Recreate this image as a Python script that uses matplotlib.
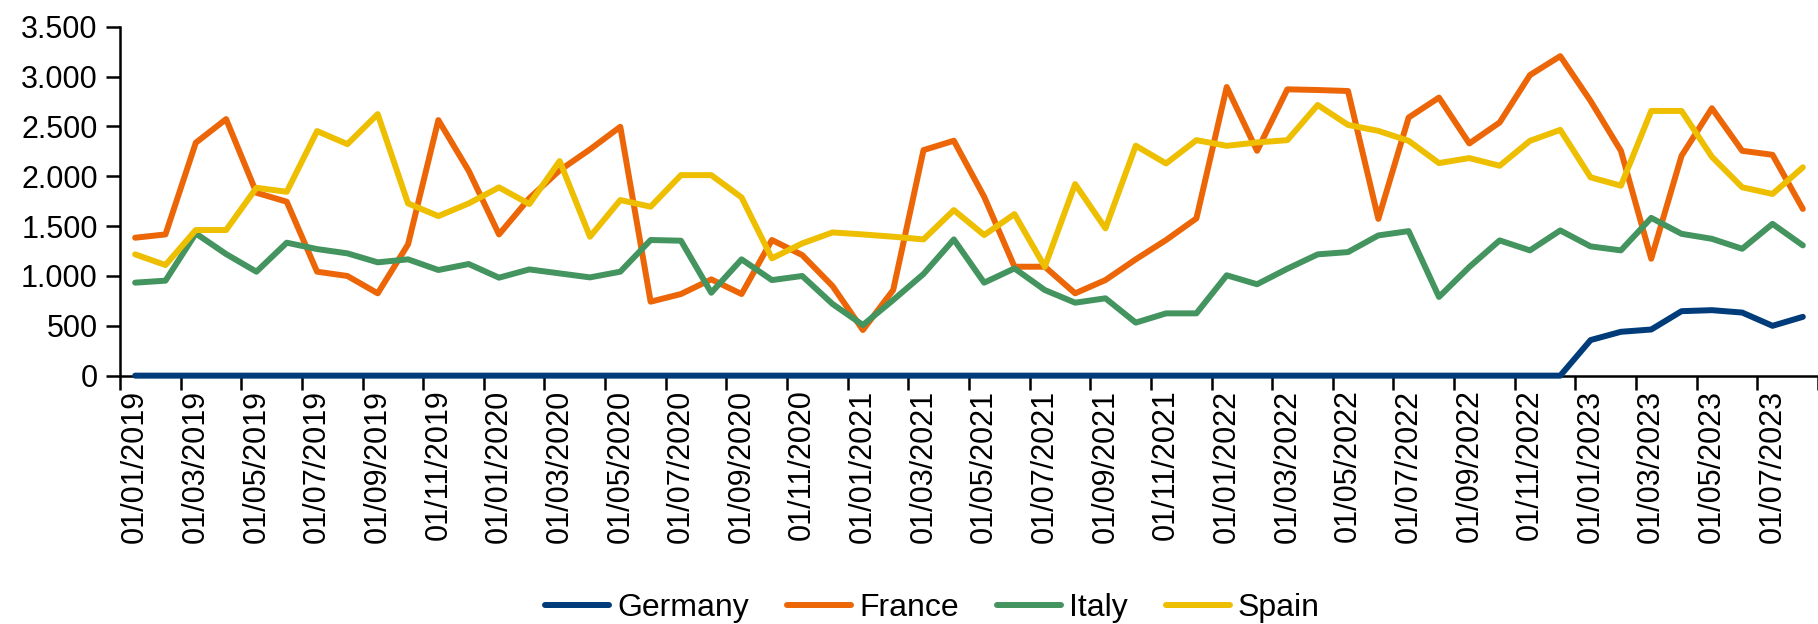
import matplotlib
matplotlib.use("Agg")
import matplotlib.pyplot as plt
import pandas as pd
import numpy as np
from matplotlib.ticker import FuncFormatter

plt.rcParams['font.family'] = ['Liberation Sans', 'DejaVu Sans']

dates = pd.date_range('2019-01-01', periods=56, freq='MS').strftime('%d/%m/%Y').tolist()

germany = [0, 0, 0, 0, 0, 0, 0, 0, 0, 0, 0, 0, 0, 0, 0, 0, 0, 0, 0, 0, 0, 0, 0, 0,
           0, 0, 0, 0, 0, 0, 0, 0, 0, 0, 0, 0, 0, 0, 0, 0, 0, 0, 0, 0, 0, 0, 0, 0,
           357, 440, 463, 647, 657, 633, 500, 590]
france = [1384, 1417, 2337, 2574, 1835, 1745, 1043, 1000, 826, 1317, 2564, 2056, 1417, 1780,
          2060, 2270, 2497, 742, 819, 966, 819, 1361, 1210, 899, 458, 859, 2263, 2357, 1795,
          1093, 1093, 826, 959, 1167, 1361, 1578, 2896, 2256, 2873, 2866, 2856, 1573, 2590,
          2790, 2330, 2540, 3016, 3206, 2756, 2256, 1173, 2206, 2683, 2256, 2216, 1673]
italy = [933, 953, 1427, 1220, 1043, 1334, 1270, 1227, 1137, 1167, 1060, 1120, 983, 1066,
         1026, 986, 1043, 1361, 1354, 832, 1167, 959, 1000, 719, 508, 759, 1020, 1367, 933,
         1076, 859, 732, 776, 532, 625, 625, 1007, 917, 1073, 1217, 1240, 1407, 1450, 790,
         1090, 1357, 1257, 1457, 1297, 1257, 1583, 1423, 1373, 1273, 1523, 1307]
spain = [1217, 1110, 1461, 1461, 1885, 1845, 2454, 2323, 2624, 1728, 1601, 1728, 1889, 1722,
         2153, 1394, 1762, 1695, 2012, 2012, 1788, 1177, 1327, 1437, 1417, 1394, 1367, 1661,
         1411, 1621, 1093, 1922, 1478, 2307, 2129, 2363, 2306, 2340, 2363, 2716, 2516, 2456,
         2356, 2133, 2183, 2106, 2356, 2466, 1990, 1906, 2656, 2656, 2196, 1890, 1823, 2090]

series = [("Germany", germany, "#003B7A"),
          ("France", france, "#EC6608"),
          ("Italy", italy, "#44945F"),
          ("Spain", spain, "#EDBF00")]

fig = plt.figure(figsize=(18.18, 6.24), dpi=100)
ax = fig.add_axes([0.066, 0.398, 0.934, 0.559])

x = np.arange(len(dates))
for name, vals, col in series:
    ax.plot(x, vals, color=col, lw=4.3, label=name, clip_on=False, zorder=5,
            solid_capstyle='round', solid_joinstyle='round')

ax.set_xlim(-0.5, 55.1)
ax.set_ylim(0, 3500)
ax.set_yticks(np.arange(0, 3501, 500))
ax.yaxis.set_major_formatter(FuncFormatter(lambda v, p: f"{int(v):,}".replace(",", ".")))

ax.set_xticks(x[::2])
ax.set_xticklabels(dates[::2], rotation=90)
ax.set_xticks(np.arange(-0.5, 55.6, 2), minor=True)
ax.tick_params(axis='x', which='major', length=0, pad=10, labelsize=22)
ax.tick_params(axis='x', which='minor', length=10, width=1.8, direction='out')
ax.tick_params(axis='y', which='major', length=10, width=1.8, direction='out', labelsize=22, pad=6)

for s in ['top', 'right']:
    ax.spines[s].set_visible(False)
for s in ['left', 'bottom']:
    ax.spines[s].set_linewidth(1.8)
    ax.spines[s].set_color('black')

fig.legend(loc='center', bbox_to_anchor=(0.513, 0.026), ncol=4, frameon=False,
           fontsize=23, handlelength=2.0, handletextpad=0.25, columnspacing=1.2)

fig.savefig("out.png", dpi=100)
